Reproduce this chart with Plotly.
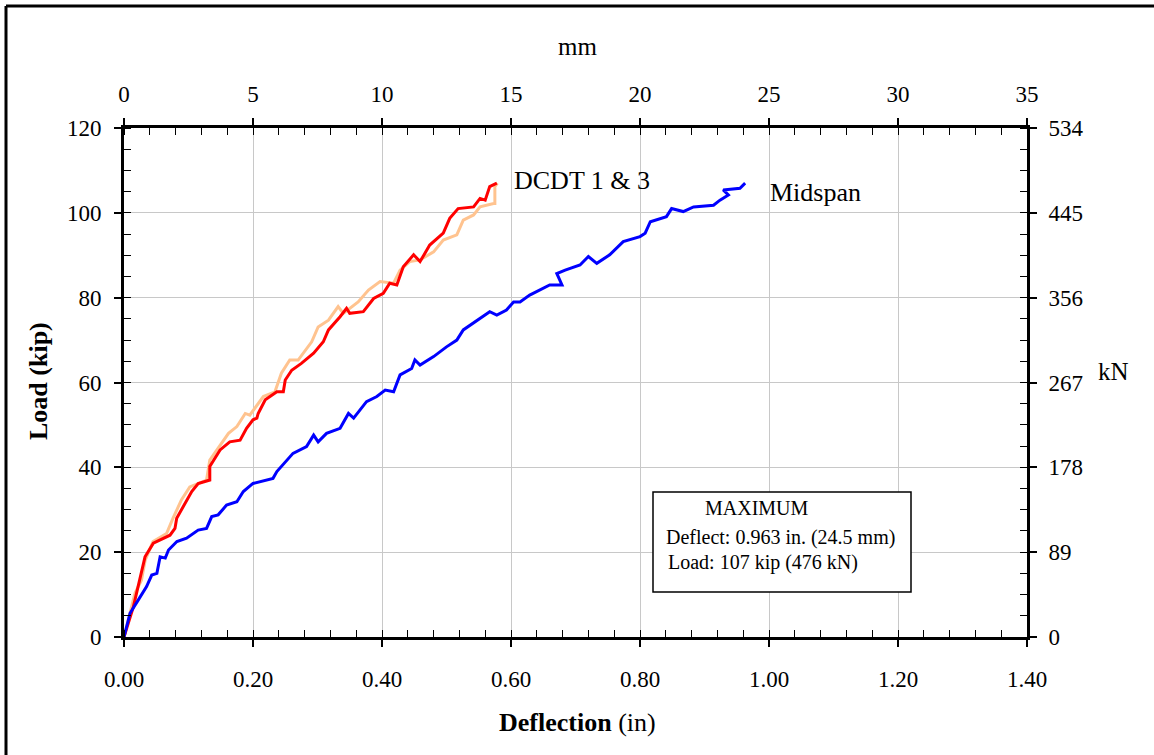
import plotly.graph_objects as go

# Load-deflection data (deflection in inches, load in kip)
dcdt1_x = [0.0, 0.0145, 0.0326, 0.0455, 0.0713, 0.079, 0.0817, 0.0946, 0.105, 0.115, 0.133, 0.133,
           0.149, 0.164, 0.180, 0.190, 0.200, 0.206, 0.208, 0.219, 0.237, 0.247, 0.250, 0.260,
           0.275, 0.294, 0.309, 0.317, 0.335, 0.345, 0.350, 0.371, 0.387, 0.402, 0.412, 0.423,
           0.433, 0.449, 0.459, 0.474, 0.495, 0.505, 0.518, 0.542, 0.552, 0.560, 0.567, 0.578]
dcdt1_y = [0.0, 7.1, 18.9, 22.1, 24.0, 25.6, 28.0, 31.5, 34.3, 36.2, 37.0, 40.2,
           44.1, 46.0, 46.4, 49.2, 51.2, 51.6, 52.7, 55.9, 57.8, 57.8, 60.6, 62.9,
           64.5, 66.9, 69.6, 72.4, 75.5, 77.5, 76.3, 76.7, 79.8, 81.0, 83.4, 83.0,
           87.3, 90.1, 88.5, 92.4, 95.2, 98.7, 101.0, 101.4, 103.4, 103.0, 106.2, 107.0]

dcdt3_x = [0.0, 0.017, 0.027, 0.033, 0.045, 0.066, 0.076, 0.089, 0.102, 0.128, 0.133, 0.144,
           0.162, 0.175, 0.188, 0.195, 0.216, 0.234, 0.244, 0.257, 0.270, 0.291, 0.301, 0.317,
           0.332, 0.340, 0.363, 0.379, 0.397, 0.418, 0.428, 0.443, 0.459, 0.480, 0.495, 0.516,
           0.526, 0.542, 0.552, 0.573, 0.575, 0.575, 0.579]
dcdt3_y = [0.0, 10.3, 13.4, 18.2, 22.5, 24.4, 28.0, 32.3, 35.4, 37.0, 41.7, 44.1,
           48.0, 49.6, 52.7, 52.3, 56.7, 57.8, 62.2, 65.3, 65.3, 69.6, 73.1, 74.7,
           77.9, 76.3, 79.0, 81.8, 83.8, 83.4, 86.5, 88.5, 88.9, 90.8, 93.6, 94.8,
           98.3, 99.5, 101.4, 102.2, 102.2, 106.2, 107.0]

mid_x = [0.0, 0.0093, 0.022, 0.035, 0.043, 0.051, 0.056, 0.064, 0.069, 0.082, 0.097, 0.115,
         0.128, 0.136, 0.146, 0.159, 0.175, 0.185, 0.200, 0.231, 0.237, 0.262, 0.283, 0.294,
         0.301, 0.314, 0.335, 0.348, 0.356, 0.376, 0.392, 0.405, 0.418, 0.428, 0.446, 0.451,
         0.459, 0.480, 0.500, 0.516, 0.526, 0.547, 0.567, 0.578, 0.593, 0.604, 0.614, 0.629,
         0.660, 0.679, 0.671, 0.684, 0.707, 0.720, 0.733, 0.753, 0.774, 0.800, 0.808, 0.816,
         0.841, 0.849, 0.867, 0.883, 0.914, 0.924, 0.937, 0.929, 0.955, 0.963]
mid_y = [0.0, 5.6, 8.7, 11.9, 14.6, 15.0, 18.9, 18.6, 20.5, 22.5, 23.3, 25.2,
         25.6, 28.4, 28.8, 31.1, 31.9, 34.3, 36.2, 37.4, 39.0, 43.3, 44.9, 47.6,
         46.0, 48.0, 49.2, 52.7, 51.6, 55.5, 56.7, 58.2, 57.8, 61.8, 63.3, 65.3,
         64.1, 66.1, 68.4, 70.0, 72.4, 74.7, 76.7, 75.9, 77.1, 79.0, 79.0, 80.6,
         83.0, 83.0, 85.7, 86.5, 87.7, 89.7, 88.1, 90.1, 93.2, 94.4, 95.2, 97.9,
         99.1, 101.0, 100.3, 101.4, 101.8, 103.0, 104.2, 105.4, 105.8, 107.0]

# Secondary axis labels
mm_ticks = [0, 5, 10, 15, 20, 25, 30, 35]
kip_ticks = [0, 20, 40, 60, 80, 100, 120]
kn_labels = ["0", "89", "178", "267", "356", "445", "534"]
in_ticks = [0.0, 0.2, 0.4, 0.6, 0.8, 1.0, 1.2, 1.4]

FONT = "Liberation Serif, Times New Roman, serif"

fig = go.Figure()
fig.add_trace(go.Scatter(x=dcdt3_x, y=dcdt3_y, mode="lines", name="DCDT 3",
                         line=dict(color="#FFC38F", width=3)))
fig.add_trace(go.Scatter(x=dcdt1_x, y=dcdt1_y, mode="lines", name="DCDT 1",
                         line=dict(color="#FF0000", width=3)))
fig.add_trace(go.Scatter(x=mid_x, y=mid_y, mode="lines", name="Midspan",
                         line=dict(color="#0000FF", width=3)))
# empty trace so the mm / kN axes are created
fig.add_trace(go.Scatter(x=[], y=[], xaxis="x2", yaxis="y2", showlegend=False))

tickfont = dict(family=FONT, size=23, color="black")

fig.update_layout(
    width=1154, height=755,
    margin=dict(l=124, r=127, t=128, b=118, autoexpand=False),
    paper_bgcolor="white", plot_bgcolor="white",
    showlegend=False,
    font=dict(family=FONT, color="black"),
    xaxis=dict(range=[0, 1.4], tickvals=in_ticks, ticktext=[f"{v:.2f}" for v in in_ticks],
               showgrid=True, gridcolor="#c8c8c8", gridwidth=1, zeroline=False,
               showline=True, linecolor="black", linewidth=3,
               ticks="outside", ticklen=7, tickwidth=1.5, tickcolor="black",
               ticklabelstandoff=12, tickfont=tickfont,
               minor=dict(dtick=0.04, tick0=0, ticks="inside", ticklen=7, tickwidth=1,
                          tickcolor="black", showgrid=False)),
    xaxis2=dict(range=[0, 35], overlaying="x", side="top", anchor="y",
                tickvals=mm_ticks, showgrid=False, zeroline=False,
                showline=True, linecolor="black", linewidth=3,
                ticks="outside", ticklen=7, tickwidth=1.5, tickcolor="black",
                ticklabelstandoff=7, tickfont=tickfont,
                minor=dict(dtick=1, tick0=0, ticks="inside", ticklen=7, tickwidth=1,
                           tickcolor="black", showgrid=False)),
    yaxis=dict(range=[0, 120], tickvals=kip_ticks,
               showgrid=True, gridcolor="#c8c8c8", gridwidth=1, zeroline=False,
               showline=True, linecolor="black", linewidth=3,
               ticks="outside", ticklen=7, tickwidth=1.5, tickcolor="black",
               ticklabelstandoff=8, tickfont=tickfont,
               minor=dict(dtick=5, tick0=0, ticks="inside", ticklen=7, tickwidth=1,
                          tickcolor="black", showgrid=False)),
    yaxis2=dict(range=[0, 120], overlaying="y", side="right", anchor="x",
                tickvals=kip_ticks, ticktext=kn_labels, showgrid=False, zeroline=False,
                showline=True, linecolor="black", linewidth=3,
                ticks="outside", ticklen=7, tickwidth=1.5, tickcolor="black",
                ticklabelstandoff=7, tickfont=tickfont,
                minor=dict(dtick=5, tick0=0, ticks="inside", ticklen=7, tickwidth=1,
                           tickcolor="black", showgrid=False)),
)

# plot dimensions in px for paper-coordinate conversion
L, T, W, H = 124, 128, 903, 509


def px(xp):
    return (xp - L) / W


def py(yp):
    return (T + H - yp) / H


shapes = [
    # outer frame (top and left edges)
    dict(type="line", xref="paper", yref="paper", x0=px(6), x1=px(1160), y0=py(6), y1=py(6),
         line=dict(color="black", width=3)),
    dict(type="line", xref="paper", yref="paper", x0=px(6), x1=px(6), y0=py(6), y1=py(760),
         line=dict(color="black", width=3)),
    # box with the maximum values
    dict(type="rect", xref="paper", yref="paper", x0=px(653), x1=px(911), y0=py(592), y1=py(492),
         line=dict(color="black", width=1.5), fillcolor="white", layer="above"),
]
fig.update_layout(shapes=shapes)

annotations = [
    dict(text="<b>Deflection</b> (in)", x=px(577), y=py(722), font=dict(size=26)),
    dict(text="mm", x=px(577), y=py(47), font=dict(size=25)),
    dict(text="<b>Load (kip)</b>", x=px(38), y=py(381), textangle=-90, font=dict(size=26)),
    dict(text="kN", x=px(1113), y=py(371), font=dict(size=25)),
    dict(text="DCDT 1 &amp; 3", x=px(512), y=py(180), xanchor="left", font=dict(size=26)),
    dict(text="Midspan", x=px(768), y=py(192), xanchor="left", font=dict(size=26)),
    dict(text="MAXIMUM", x=px(757), y=py(508), font=dict(size=20)),
    dict(text="Deflect: 0.963 in. (24.5 mm)", x=px(664), y=py(537), xanchor="left", font=dict(size=20)),
    dict(text="Load: 107 kip (476 kN)", x=px(666), y=py(562), xanchor="left", font=dict(size=20)),
]
for a in annotations:
    a.setdefault("xanchor", "center")
    a.update(xref="paper", yref="paper", yanchor="middle", showarrow=False)
    a["font"] = dict(family=FONT, color="black", **a["font"])
fig.update_layout(annotations=annotations)

fig.write_html("out.html")
